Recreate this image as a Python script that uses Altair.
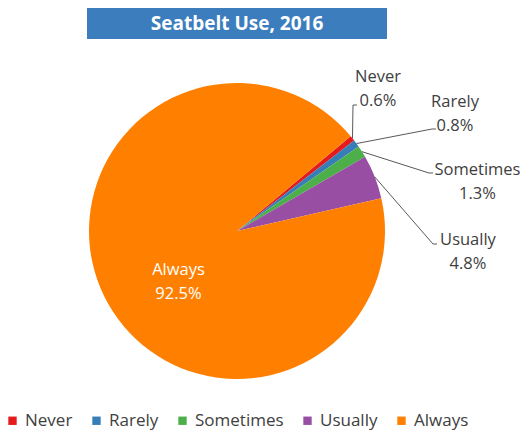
import math
import altair as alt
import pandas as pd

# ---- data ----
title_text = "Seatbelt Use, 2016"
categories = ["Never", "Rarely", "Sometimes", "Usually", "Always"]
values = [0.6, 0.8, 1.3, 4.8, 92.5]
colors = ["#E41A1C", "#377EB8", "#4DAF4A", "#984EA3", "#FF7F00"]

# ---- layout (pixels, chart coordinates) ----
W, H = 514, 422
CX, CY, R = 229, 223, 148
START_DEG = 50.2
FONT = "Open Sans"
TXT = "#404040"
# first-line label centre, elbow, end of leader
label_layout = {
    "Never": dict(lx=370, ly=69, ex=345, ey=97, tx=349, ty=97),
    "Rarely": dict(lx=447, ly=93.5, ex=424, ey=121, tx=428, ty=121),
    "Sometimes": dict(lx=469.5, ly=162, ex=421, ey=165, tx=425, ty=165),
    "Usually": dict(lx=460, ly=232, ex=425, ey=236, tx=429, ty=236),
    "Always": dict(lx=170.5, ly=261.5),
}

df = pd.DataFrame({"cat": categories, "value": values, "idx": range(len(categories))})
total = sum(values)
start = math.radians(START_DEG)

# label + leader data derived from the values
lab_rows, line_rows = [], []
cum = 0.0
for c, v in zip(categories, values):
    mid = start + 2 * math.pi * (cum + v / 2) / total
    cum += v
    L = label_layout[c]
    lab_rows.append(dict(cat=c, text=f"{c}\n{v:.1f}%", px=L["lx"], py=L["ly"],
                         col="white" if c == "Always" else TXT))
    if "ex" in L:
        sx = CX + R * math.sin(mid)
        sy = CY - R * math.cos(mid)
        for k, (x, y) in enumerate([(sx, sy), (L["ex"], L["ey"]), (L["tx"], L["ty"])]):
            line_rows.append(dict(cat=c, k=k, px=x, py=y))
labels = pd.DataFrame(lab_rows)
lines = pd.DataFrame(line_rows)

banner_df = pd.DataFrame({"t": [title_text]})

pie = alt.Chart(df).mark_arc(radius=R).encode(
    theta=alt.Theta("value:Q", stack=True,
                    scale=alt.Scale(range=[start, start + 2 * math.pi])),
    color=alt.Color("cat:N", sort=categories,
                    scale=alt.Scale(domain=categories, range=colors),
                    legend=alt.Legend(title=None, orient="none", direction="horizontal",
                                      legendX=-4, legendY=404, symbolType="square",
                                      symbolSize=70, symbolStrokeWidth=0,
                                      labelFont=FONT, labelFontSize=17, labelColor=TXT,
                                      labelOffset=4, columnPadding=15, padding=0)),
    order=alt.Order("idx:Q"),
    x=alt.value(CX),
    y=alt.value(CY),
)

leaders = alt.Chart(lines).mark_line(color="#595959", strokeWidth=1).encode(
    x=alt.X("px:Q", scale=None, axis=None),
    y=alt.Y("py:Q", scale=None, axis=None),
    detail="cat:N",
    order="k:Q",
)

texts = alt.Chart(labels).mark_text(font=FONT, fontSize=16.5, lineBreak="\n",
                                    lineHeight=24, align="center", baseline="middle").encode(
    x=alt.X("px:Q", scale=None, axis=None),
    y=alt.Y("py:Q", scale=None, axis=None),
    text="text:N",
    color=alt.Color("col:N", scale=None, legend=None),
)

banner = alt.Chart(banner_df).mark_rect(color="#3B7DBD").encode(
    x=alt.value(79), x2=alt.value(379), y=alt.value(0), y2=alt.value(31),
)
banner_text = alt.Chart(banner_df).mark_text(font=FONT, fontSize=19, fontWeight="bold",
                                             color="white", align="center",
                                             baseline="middle").encode(
    x=alt.value(229), y=alt.value(16), text="t:N",
)

chart = alt.layer(banner, banner_text, pie, leaders, texts).properties(
    width=W, height=H,
    autosize=alt.AutoSizeParams(type="none"),
    padding=0,
).configure_view(stroke=None)

chart.save("out.html", embed_options={"renderer": "svg", "actions": False})
